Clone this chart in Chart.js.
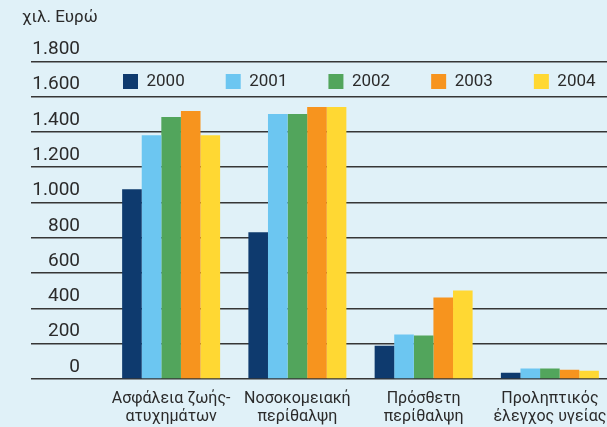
<!DOCTYPE html>
<html>
<head>
<meta charset="utf-8">
<script src="https://cdn.jsdelivr.net/npm/chart.js@4.4.1/dist/chart.umd.min.js"></script>
<style>
  html, body { margin: 0; padding: 0; background: #e0f1f8; overflow: hidden; }
  #wrap { position: absolute; left: 22px; top: 0; width: 600px; height: 427px; }
</style>
</head>
<body>
<div id="wrap"><canvas id="chart" width="600" height="427"></canvas></div>
<script>
// categories (two-line labels)
const categories = [
    ['Ασφάλεια ζωής-', 'ατυχημάτων'],
    ['Νοσοκομειακή', 'περίθαλψη'],
    ['Πρόσθετη', 'περίθαλψη'],
    ['Προληπτικός', 'έλεγχος υγείας']
];
const years = ['2000', '2001', '2002', '2003', '2004'];

// values in thousand euro
const v2000 = [1075, 831, 189, 36];
const v2001 = [1382, 1502, 252, 59];
const v2002 = [1485, 1502, 246, 59];
const v2003 = [1519, 1541, 462, 53];
const v2004 = [1382, 1541, 502, 47];

const colors = ['#0e3a6e', '#6cc6f1', '#52a55c', '#f7941e', '#ffd833'];
const textColor = '#2b2b2b';

// legend sits inside the plot, between the two top grid lines
const moveLegend = {
    id: 'moveLegend',
    afterLayout: function(chart) {
        var lg = chart.legend;
        lg.left = 60;
        lg.right = 700;
        lg.top = 32;
        lg.bottom = 120;
        lg.height = 88;
    }
};

function fmt(v) {
    return String(v).replace(/\B(?=(\d{3})+(?!\d))/g, '.');
}

new Chart(document.getElementById('chart'), {
    type: 'bar',
    data: {
        labels: categories,
        datasets: [v2000, v2001, v2002, v2003, v2004].map(function(d, i) {
            return {
                label: years[i],
                data: d,
                backgroundColor: colors[i],
                borderWidth: 0,
                categoryPercentage: 0.776,
                barPercentage: 1
            };
        })
    },
    options: {
        responsive: false,
        animation: false,
        layout: { padding: { left: 0, right: 9, top: 0, bottom: 0 } },
        plugins: {
            title: {
                display: true,
                text: 'χιλ. Ευρώ',
                align: 'start',
                color: textColor,
                font: { family: 'Roboto', size: 17, weight: 'normal', lineHeight: 1.2 },
                padding: { top: 8, bottom: 32 }
            },
            legend: {
                position: 'top',
                align: 'start',
                maxHeight: 1,
                labels: {
                    boxWidth: 15,
                    boxHeight: 15,
                    padding: 41,
                    color: textColor,
                    font: { family: 'Roboto', size: 17 }
                }
            },
            tooltip: { enabled: false }
        },
        scales: {
            x: {
                afterFit: function(scale) { scale.height = 48; },
                grid: { display: false, drawTicks: false },
                border: { display: false },
                ticks: {
                    color: textColor,
                    padding: 11,
                    maxRotation: 0,
                    autoSkip: false,
                    font: { family: 'Roboto', size: 16, lineHeight: 1.125 }
                }
            },
            y: {
                min: 0,
                max: 1800,
                afterFit: function(scale) { scale.width = 86; },
                border: { display: false },
                grid: {
                    color: '#363636',
                    lineWidth: 1.6,
                    tickLength: 77
                },
                ticks: {
                    stepSize: 200,
                    padding: -49,
                    labelOffset: -12,
                    color: textColor,
                    font: { family: 'Roboto', size: 19 },
                    callback: function(v) { return fmt(v); }
                }
            }
        }
    },
    plugins: [moveLegend]
});
</script>
</body>
</html>
